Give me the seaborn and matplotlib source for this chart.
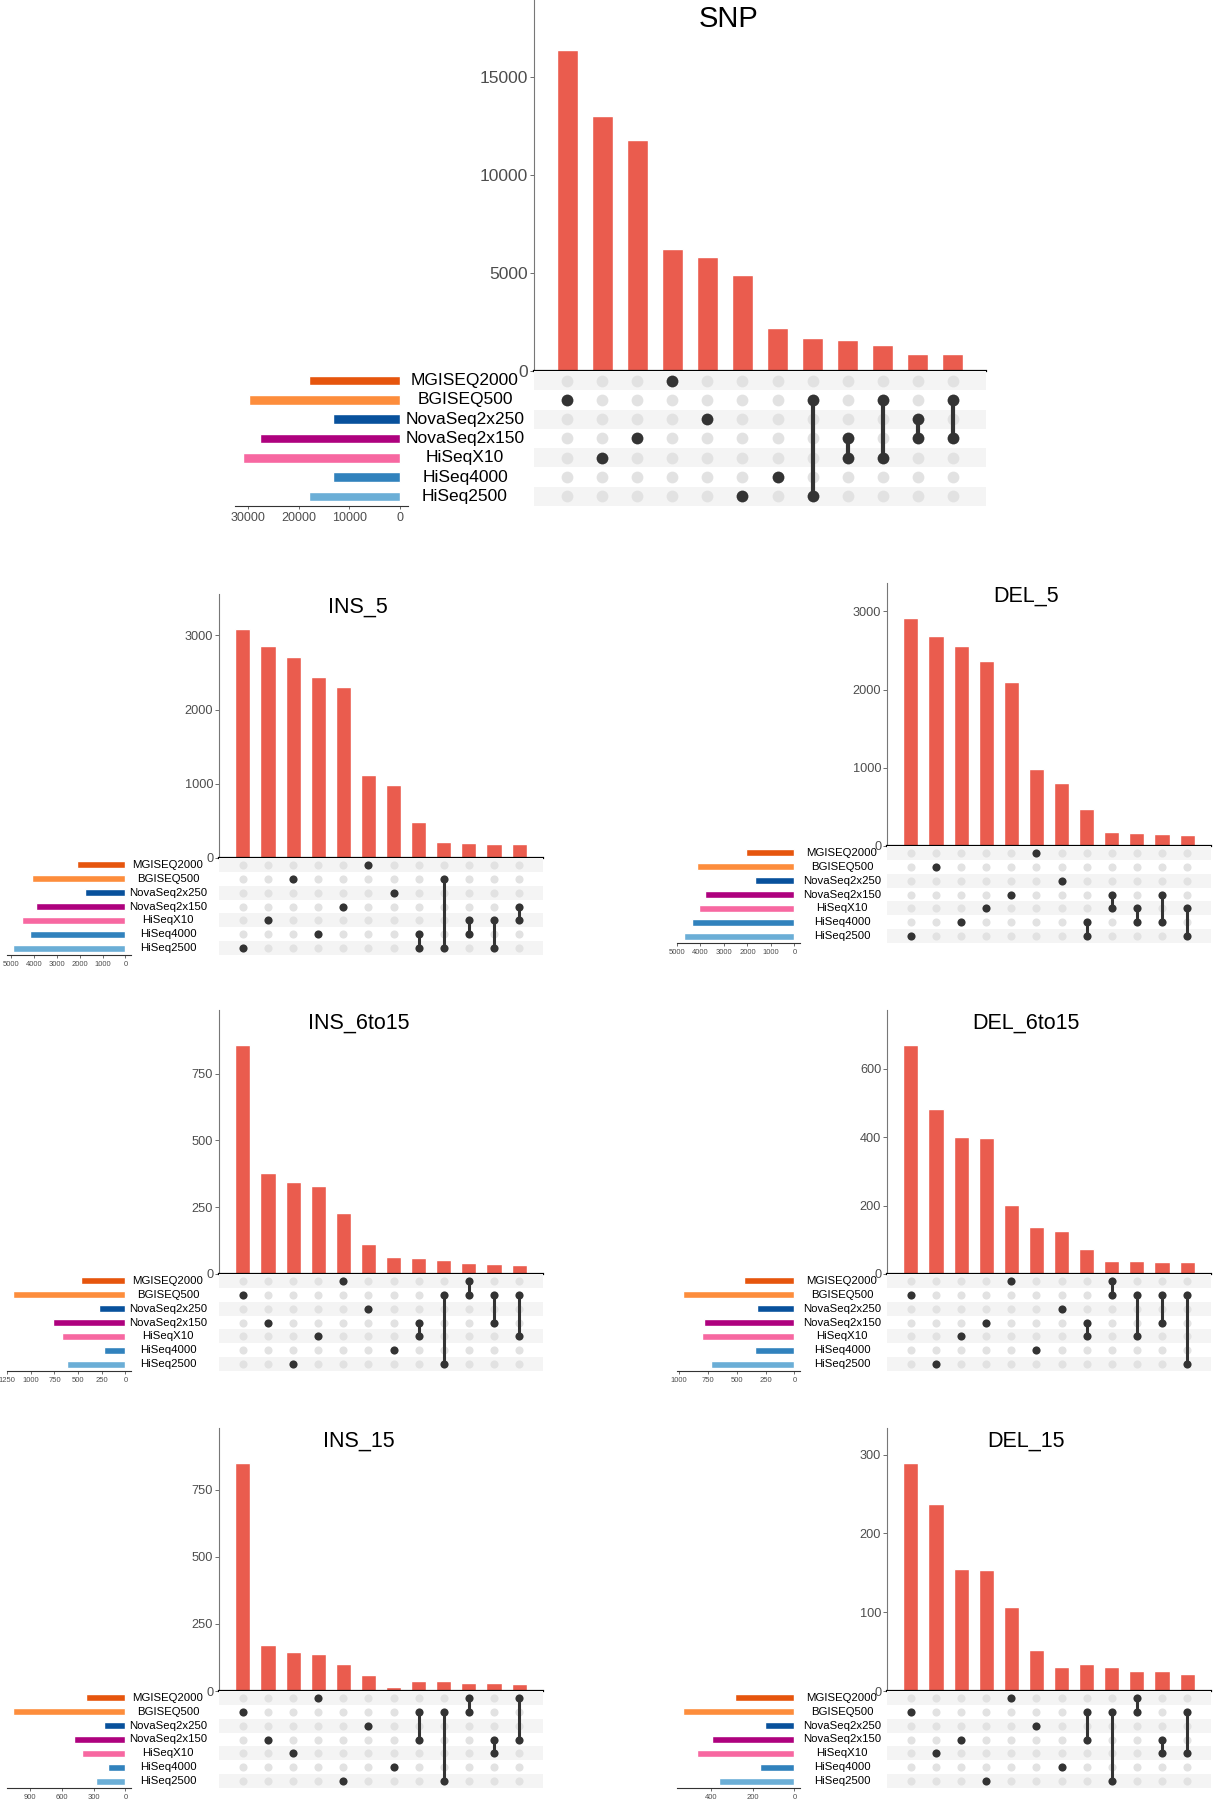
import numpy as np
import pandas as pd
import matplotlib.pyplot as plt
import seaborn as sns

sns.set_theme(style="white")
plt.rcParams['font.family'] = ['Liberation Sans', 'DejaVu Sans']

W, H = 1215, 1800

sets = ["MGISEQ2000", "BGISEQ500", "NovaSeq2x250", "NovaSeq2x150",
        "HiSeqX10", "HiSeq4000", "HiSeq2500"]
set_colors = ["#E6550D", "#FD8D3C", "#08519C", "#AE017E",
              "#F768A1", "#3182BD", "#6BAED6"]
BAR_COLOR = "#EA5C4E"
MG, BG, N250, N150, X10, H4000, H2500 = sets

# ---- SNP ----
snp_counts = [16400, 13020, 11810, 6250, 5820, 4920, 2220, 1690, 1590, 1330, 890, 870]
snp_combos = [[BG], [X10], [N150], [MG], [N250], [H2500], [H4000],
              [BG, H2500], [N150, X10], [BG, X10], [N250, N150], [BG, N150]]
snp_sizes = [18000, 29700, 13300, 27600, 31000, 13300, 18000]
snp_yticks = [0, 5000, 10000, 15000]
snp_size_ticks = [0, 10000, 20000, 30000]

# ---- INS_5 ----
ins5_counts = [3080, 2850, 2710, 2440, 2300, 1120, 990, 480, 211, 202, 193, 188]
ins5_combos = [[H2500], [X10], [BG], [H4000], [N150], [MG], [N250],
               [H4000, H2500], [BG, H2500], [X10, H4000], [X10, H2500], [N150, X10]]
ins5_sizes = [2120, 4090, 1780, 3930, 4560, 4170, 4950]
ins5_yticks = [0, 1000, 2000, 3000]
ins5_size_ticks = [0, 1000, 2000, 3000, 4000, 5000]

# ---- DEL_5 ----
del5_counts = [2910, 2680, 2550, 2370, 2090, 980, 800, 470, 180, 166, 157, 140]
del5_combos = [[H2500], [BG], [H4000], [X10], [N150], [MG], [N250],
               [H4000, H2500], [N150, X10], [X10, H4000], [N150, H4000], [X10, H2500]]
del5_sizes = [2050, 4160, 1690, 3800, 4060, 4380, 4710]
del5_yticks = [0, 1000, 2000, 3000]
del5_size_ticks = [0, 1000, 2000, 3000, 4000, 5000]

# ---- INS_6to15 ----
ins615_counts = [856, 378, 343, 328, 228, 114, 65, 59, 53, 40, 38, 33]
ins615_combos = [[BG], [N150], [H2500], [X10], [MG], [N250], [H4000],
                 [N150, X10], [BG, H2500], [MG, BG], [BG, N150], [BG, X10]]
ins615_sizes = [465, 1193, 278, 762, 675, 229, 621]
ins615_yticks = [0, 250, 500, 750]
ins615_size_ticks = [0, 250, 500, 750, 1000, 1250]

# ---- DEL_6to15 ----
del615_counts = [668, 482, 401, 396, 203, 137, 126, 72, 38, 37, 35, 34]
del615_combos = [[BG], [H2500], [X10], [N150], [MG], [H4000], [N250],
                 [N150, X10], [MG, BG], [BG, X10], [BG, N150], [BG, H2500]]
del615_sizes = [436, 970, 326, 786, 798, 341, 727]
del615_yticks = [0, 200, 400, 600]
del615_size_ticks = [0, 250, 500, 750, 1000]

# ---- INS_15 ----
ins15_counts = [848, 172, 147, 136, 101, 59, 16, 38, 38, 31, 30, 26]
ins15_combos = [[BG], [N150], [X10], [MG], [H2500], [N250], [H4000],
                [BG, N150], [BG, H2500], [MG, BG], [N150, X10], [MG, N150]]
ins15_sizes = [370, 1064, 198, 483, 414, 164, 274]
ins15_yticks = [0, 250, 500, 750]
ins15_size_ticks = [0, 300, 600, 900]

# ---- DEL_15 ----
del15_counts = [289, 237, 155, 153, 107, 52, 31, 34, 31, 26, 25, 22]
del15_combos = [[BG], [X10], [N150], [H2500], [MG], [N250], [H4000],
                [BG, N150], [BG, H2500], [MG, BG], [N150, X10], [BG, X10]]
del15_sizes = [287, 536, 139, 393, 466, 167, 361]
del15_yticks = [0, 100, 200, 300]
del15_size_ticks = [0, 200, 400]


def rect(x0, y0, x1, y1):
    return [x0 / W, 1 - y1 / H, (x1 - x0) / W, (y1 - y0) / H]


def draw_upset(fig, name, counts, combos, sizes, yticks, size_ticks, lay, big=False):
    bx0, bx1, top, base, mbot, sx0, sx1, lab_x = lay
    n = len(counts)
    title_fs = 21 if big else 15.5
    tick_fs = 12.5 if big else 9.2
    size_fs = 9 if big else 5.5
    label_fs = 12.5 if big else 8.2
    dot_s = 72 if big else 34
    lw = 3.0 if big else 2.2

    # intersection bars
    ax = fig.add_axes(rect(bx0, top, bx1, base))
    df = pd.DataFrame({"combo": [str(i) for i in range(n)], "count": counts})
    sns.barplot(data=df, x="combo", y="count", color=BAR_COLOR, saturation=1,
                width=0.6, ax=ax)
    ax.set_xlim(-0.95, n - 1 + 0.95)
    ax.set_ylim(0, max(counts) * 1.155)
    ax.set_yticks(yticks)
    ax.set_xticks([])
    ax.set_xlabel("")
    ax.set_ylabel("")
    sns.despine(ax=ax)
    ax.spines["left"].set_color("#777777")
    ax.spines["left"].set_linewidth(0.8)
    ax.spines["bottom"].set_color("black")
    ax.spines["bottom"].set_linewidth(1.6)
    ax.tick_params(axis="y", left=True, length=3, width=0.6, color="#555555",
                   labelcolor="#4D4D4D", labelsize=tick_fs, pad=1.2)
    ax.text(0.43, 0.95, name, transform=ax.transAxes, ha="center", va="center",
            fontsize=title_fs, color="black")

    # matrix
    axm = fig.add_axes(rect(bx0, base, bx1, mbot))
    axm.set_xlim(-0.95, n - 1 + 0.95)
    axm.set_ylim(len(sets) - 0.5, -0.5)
    for i in range(0, len(sets), 2):
        axm.axhspan(i - 0.5, i + 0.5, color="#F4F4F4", lw=0, zorder=0)
    gx, gy = np.meshgrid(np.arange(n), np.arange(len(sets)))
    axm.scatter(gx.ravel(), gy.ravel(), s=dot_s, color="#E2E2E2", lw=0, zorder=1)
    for j, combo in enumerate(combos):
        rows = [sets.index(s) for s in combo]
        if len(rows) > 1:
            axm.plot([j, j], [min(rows), max(rows)], color="#333333", lw=lw,
                     solid_capstyle="butt", zorder=2)
        axm.scatter([j] * len(rows), rows, s=dot_s, color="#333333", lw=0, zorder=3)
    axm.axis("off")

    # set sizes
    axs = fig.add_axes(rect(sx0, base, sx1, mbot))
    sns.barplot(x=sizes, y=sets, hue=sets, palette=set_colors, legend=False,
                orient="h", width=0.5, saturation=1, ax=axs)
    mx = max(sizes)
    axs.set_xlim(mx * 1.05, -mx * 0.05)
    axs.set_ylim(len(sets) - 0.5, -0.5)
    axs.set_xticks(size_ticks)
    axs.set_yticks([])
    axs.set_xlabel("")
    axs.set_ylabel("")
    sns.despine(ax=axs, left=True)
    axs.spines["bottom"].set_color("#333333")
    axs.spines["bottom"].set_linewidth(0.8)
    axs.tick_params(axis="x", bottom=True, length=2.5, width=0.6, color="#555555",
                    labelcolor="#4D4D4D", labelsize=size_fs, pad=1.5)

    # set labels
    axl = fig.add_axes(rect(sx1, base, bx0, mbot))
    axl.set_xlim(sx1, bx0)
    axl.set_ylim(len(sets) - 0.5, -0.5)
    axl.axis("off")
    for i, s in enumerate(sets):
        axl.text(lab_x, i, s, ha="center", va="center", fontsize=label_fs,
                 color="black")


fig = plt.figure(figsize=(W / 100, H / 100), dpi=100)

# layout in pixels: bar x0, bar x1, top, base, matrix bottom, sizes x0, sizes x1, label centre
draw_upset(fig, "SNP", snp_counts, snp_combos, snp_sizes, snp_yticks, snp_size_ticks,
           (534, 986, 0, 371, 506, 235, 408, 465), big=True)
draw_upset(fig, "INS_5", ins5_counts, ins5_combos, ins5_sizes, ins5_yticks, ins5_size_ticks,
           (219, 543, 594, 858, 955, 7, 131, 168))
draw_upset(fig, "DEL_5", del5_counts, del5_combos, del5_sizes, del5_yticks, del5_size_ticks,
           (887, 1211, 583, 846, 943, 677, 800, 842))
draw_upset(fig, "INS_6to15", ins615_counts, ins615_combos, ins615_sizes, ins615_yticks,
           ins615_size_ticks, (219, 543, 1010, 1274, 1371, 7, 131, 168))
draw_upset(fig, "DEL_6to15", del615_counts, del615_combos, del615_sizes, del615_yticks,
           del615_size_ticks, (887, 1211, 1010, 1274, 1371, 677, 800, 842))
draw_upset(fig, "INS_15", ins15_counts, ins15_combos, ins15_sizes, ins15_yticks,
           ins15_size_ticks, (219, 543, 1428, 1691, 1788, 7, 131, 168))
draw_upset(fig, "DEL_15", del15_counts, del15_combos, del15_sizes, del15_yticks,
           del15_size_ticks, (887, 1211, 1428, 1691, 1788, 677, 800, 842))

fig.savefig("out.png", dpi=100)
